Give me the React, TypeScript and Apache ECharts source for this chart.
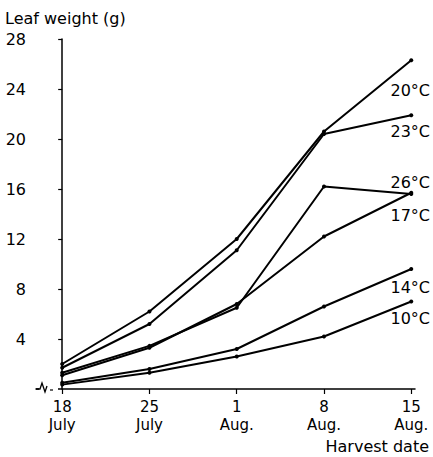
import React, { useEffect, useRef } from "react";
import * as echarts from "echarts";

const dayOffsets = [0, 7, 14, 21, 28];
const dateLabels = ["18\nJuly", "25\nJuly", "1\nAug.", "8\nAug.", "15\nAug."];
const yTicks = [4, 8, 12, 16, 20, 24, 28];

const s20 = [2.0, 6.2, 12.0, 20.6, 26.3];
const s23 = [1.7, 5.2, 11.1, 20.4, 21.9];
const s26 = [1.3, 3.45, 6.5, 16.2, 15.6];
const s17 = [1.1, 3.3, 6.8, 12.2, 15.7];
const s14 = [0.5, 1.6, 3.2, 6.6, 9.6];
const s10 = [0.35, 1.3, 2.6, 4.2, 7.0];

const seriesNames = ["20°C", "23°C", "26°C", "17°C", "14°C", "10°C"];
const seriesValues = [s20, s23, s26, s17, s14, s10];
const labelCenters = [90, 131, 182, 215, 287, 318];

const FONT = "DejaVu Sans";

export default function App() {
  const ref = useRef<HTMLDivElement>(null);
  useEffect(() => {
    document.body.style.margin = "0";
    if (!ref.current) return;
    const chart = echarts.init(ref.current, undefined, { renderer: "svg" });
    const axisY = 389;
    chart.setOption({
      animation: false,
      backgroundColor: "#fff",
      grid: { left: 36, right: 18, top: 39, bottom: 457 - axisY },
      xAxis: {
        type: "value",
        min: -2.1,
        max: 28.3,
        splitLine: { show: false },
        axisLine: { lineStyle: { color: "#000", width: 1.5 } },
        axisTick: {
          customValues: dayOffsets,
          length: 5,
          lineStyle: { color: "#000", width: 1.2 },
        },
        axisLabel: {
          customValues: dayOffsets,
          formatter: (v: number) => dateLabels[dayOffsets.indexOf(v)] ?? "",
          color: "#000",
          fontFamily: FONT,
          fontSize: 15,
          lineHeight: 18,
          margin: 9,
        },
      },
      yAxis: {
        type: "value",
        min: 0,
        max: 28,
        interval: 4,
        splitLine: { show: false },
        axisLine: { lineStyle: { color: "#000", width: 1.5 } },
        axisTick: {
          customValues: yTicks,
          length: 4,
          lineStyle: { color: "#000", width: 1.2 },
        },
        axisLabel: {
          customValues: yTicks,
          color: "#000",
          fontFamily: FONT,
          fontSize: 16,
          margin: 10,
        },
      },
      series: seriesValues.map((vals, i) => ({
        name: seriesNames[i],
        type: "line",
        data: vals.map((v, j) => [dayOffsets[j], v]),
        symbol: "circle",
        symbolSize: 4,
        itemStyle: { color: "#000" },
        lineStyle: { color: "#000", width: 2 },
      })),
      graphic: [
        {
          type: "text",
          left: 5,
          top: 10,
          style: { text: "Leaf weight (g)", font: `16px ${FONT}`, fill: "#000" },
        },
        {
          type: "text",
          right: 4,
          top: 438,
          style: { text: "Harvest date", font: `16px ${FONT}`, fill: "#000" },
        },
        ...seriesNames.map((n, i) => ({
          type: "text",
          x: 430,
          y: labelCenters[i],
          style: {
            text: n,
            font: `16px ${FONT}`,
            fill: "#000",
            align: "right",
            verticalAlign: "middle",
          },
        })),
        {
          type: "rect",
          shape: { x: 39, y: axisY - 3, width: 19, height: 6 },
          style: { fill: "#fff" },
          z: 100,
        },
        {
          type: "polyline",
          shape: {
            points: [
              [36, axisY],
              [40, axisY],
              [42, axisY - 6],
              [45, axisY + 3],
              [47, axisY - 3],
            ],
          },
          style: { stroke: "#000", lineWidth: 1.3, fill: null },
          z: 101,
        },
        {
          type: "line",
          shape: { x1: 50, y1: axisY + 1, x2: 53, y2: axisY + 1 },
          style: { stroke: "#000", lineWidth: 1.2 },
          z: 101,
        },
      ],
    });
    return () => chart.dispose();
  }, []);
  return <div ref={ref} style={{ width: 433, height: 457 }} />;
}
